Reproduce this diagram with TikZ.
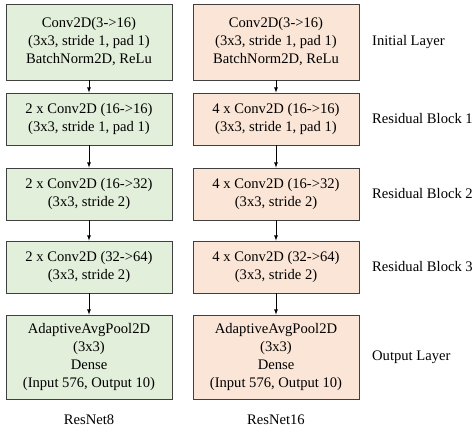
\documentclass[tikz,border=0pt]{standalone}
\usepackage{fontspec}
\setmainfont{Liberation Serif}
\usepackage{tikz}
\definecolor{gg}{RGB}{226, 239, 218}
\definecolor{oo}{RGB}{251, 229, 214}
\definecolor{bb}{RGB}{64, 64, 64}
\def\width{166pt}
\def\txt{\fontsize{14.6}{18}\selectfont}
\newcommand{\layer}[6]{\node[minimum height=#4,minimum width=\width,draw=bb,line width=0.8pt,rectangle,fill=#5,align=center,inner sep=0pt,font=\txt] (#3) at (#1,#2) {#6};}

\begin{document}
\begin{tikzpicture}[x=1pt,y=-1pt]
\useasboundingbox (0,0) rectangle (474,430);

\layer{89}{42}{L1}{76pt}{gg}{Conv2D(3->16)\\(3x3, stride 1, pad 1)\\BatchNorm2D, ReLu}
\layer{89}{119}{L2}{52pt}{gg}{2 x Conv2D (16->16)\\(3x3, stride 1, pad 1)}
\layer{89}{194}{L3}{52pt}{gg}{2 x Conv2D (16->32)\\(3x3, stride 2)}
\layer{89}{267}{L4}{52pt}{gg}{2 x Conv2D (32->64)\\(3x3, stride 2)}
\layer{89}{357}{L5}{84pt}{gg}{AdaptiveAvgPool2D\\(3x3)\\Dense\\(Input 576, Output 10)}

\layer{276}{42}{R1}{76pt}{oo}{Conv2D(3->16)\\(3x3, stride 1, pad 1)\\BatchNorm2D, ReLu}
\layer{276}{119}{R2}{52pt}{oo}{4 x Conv2D (16->16)\\(3x3, stride 1, pad 1)}
\layer{276}{194}{R3}{52pt}{oo}{4 x Conv2D (16->32)\\(3x3, stride 2)}
\layer{276}{267}{R4}{52pt}{oo}{4 x Conv2D (32->64)\\(3x3, stride 2)}
\layer{276}{357}{R5}{84pt}{oo}{AdaptiveAvgPool2D\\(3x3)\\Dense\\(Input 576, Output 10)}

% stage names
\node[right,font=\txt,inner sep=0pt] (initial) at (372,42) {Initial Layer};
\node[right,font=\txt,inner sep=0pt] (res1) at (372,119) {Residual Block 1};
\node[right,font=\txt,inner sep=0pt] (res2) at (372,194) {Residual Block 2};
\node[right,font=\txt,inner sep=0pt] (res3) at (372,267) {Residual Block 3};
\node[right,font=\txt,inner sep=0pt] (output) at (372,357) {Output Layer};

\node[font=\txt] (net8) at (89,420) {ResNet8};
\node[font=\txt] (net16) at (276,420) {ResNet16};

\draw[-latex,line width=0.8pt] (L1) -- (L2);
\draw[-latex,line width=0.8pt] (L2) -- (L3);
\draw[-latex,line width=0.8pt] (L3) -- (L4);
\draw[-latex,line width=0.8pt] (L4) -- (L5);
\draw[-latex,line width=0.8pt] (R1) -- (R2);
\draw[-latex,line width=0.8pt] (R2) -- (R3);
\draw[-latex,line width=0.8pt] (R3) -- (R4);
\draw[-latex,line width=0.8pt] (R4) -- (R5);
\end{tikzpicture}
\end{document}
